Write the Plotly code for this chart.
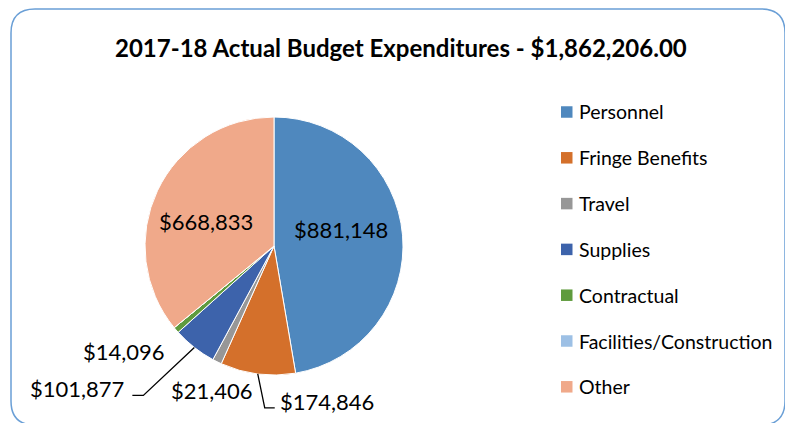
import math
import plotly.graph_objects as go

# ---- data ----
labels = ["Personnel", "Fringe Benefits", "Travel", "Supplies", "Contractual",
          "Facilities/Construction", "Other"]
values = [881148, 174846, 21406, 101877, 14096, 0, 668833]
colors = ["#4F88BE", "#D4702B", "#979797", "#3D63AB", "#5F9B3D", "#9DC0E5", "#F0A98A"]
title_text = "2017-18 Actual Budget Expenditures - $1,862,206.00"

PAGE_W, PAGE_H, OFF = 793, 423, 8      # browser body margin offset
W, H = PAGE_W - OFF, PAGE_H - OFF
CX, CY, R = 274, 246, 129              # pie centre / radius in page pixels

def px(x):
    return (x - OFF) / W

def py(y):
    return 1 - (y - OFF) / H

def fmt(v):
    return "${:,.0f}".format(v)

fig = go.Figure(go.Pie(
    labels=labels, values=values, sort=False, direction="clockwise", rotation=0,
    marker=dict(colors=colors, line=dict(color="white", width=1)),
    textinfo="none", hoverinfo="label+value", showlegend=False,
    domain=dict(x=[px(CX - R), px(CX + R)], y=[py(CY + R), py(CY - R)]),
))

total = sum(values)
mids = []
acc = 0
for v in values:
    mids.append((acc + v / 2) / total * 2 * math.pi)
    acc += v

def edge(i, k=1.0):
    a = mids[i]
    return CX + k * R * math.sin(a), CY - k * R * math.cos(a)

annotations = []
shapes = []
LBL_FONT = dict(family="Lato", size=22, color="black")

def label(x, y, text, xanchor="center", font=LBL_FONT):
    annotations.append(dict(x=px(x), y=py(y), xref="paper", yref="paper", text=text,
                            showarrow=False, xanchor=xanchor, yanchor="middle", font=font))

# inside labels
x, y = edge(0, 0.58)
label(x - 8, y - 10, fmt(values[0]))
x, y = edge(6, 0.58)
label(x, y + 8, fmt(values[6]))

# Fringe Benefits with leader
x0, y0 = edge(1)
shapes.append(dict(type="path", xref="paper", yref="paper",
                   path=f"M {px(x0)},{py(y0)} L {px(x0 + 7)},{py(y0 + 34)} L {px(x0 + 17)},{py(y0 + 34)}",
                   line=dict(color="black", width=1.3)))
label(x0 + 20, y0 + 28, fmt(values[1]), xanchor="left")
# Travel
x0, y0 = edge(2)
label(x0 - 5, y0 + 29, fmt(values[2]))
# Supplies with leader
x0, y0 = edge(3)
shapes.append(dict(type="path", xref="paper", yref="paper",
                   path=f"M {px(x0)},{py(y0)} L {px(x0 - 51)},{py(y0 + 48)} L {px(x0 - 62)},{py(y0 + 48)}",
                   line=dict(color="black", width=1.3)))
label(x0 - 68, y0 + 41, fmt(values[3]), xanchor="right")
# Contractual
x0, y0 = edge(4)
label(x0 - 52, y0 + 21, fmt(values[4]))

# manual legend
LEG_X, LEG_Y0, LEG_DY, SQ = 561, 112, 45.8, 11.5
for i, (lab, col) in enumerate(zip(labels, colors)):
    yc = LEG_Y0 + i * LEG_DY
    shapes.append(dict(type="rect", xref="paper", yref="paper",
                       x0=px(LEG_X), x1=px(LEG_X + SQ), y0=py(yc - SQ / 2), y1=py(yc + SQ / 2),
                       fillcolor=col, line=dict(width=0)))
    label(LEG_X + SQ + 4, yc, lab, xanchor="left",
          font=dict(family="Lato", size=19.5, color="black"))

# title
label(401, 47, f"<b>{title_text}</b>", font=dict(family="Lato", size=24, color="black"))

# rounded border
L, T, Rr, B, rad = 11, 9, 785, 425, 24
path = (f"M {px(L + rad)},{py(T)} L {px(Rr - rad)},{py(T)} Q {px(Rr)},{py(T)} {px(Rr)},{py(T + rad)} "
        f"L {px(Rr)},{py(B - rad)} Q {px(Rr)},{py(B)} {px(Rr - rad)},{py(B)} "
        f"L {px(L + rad)},{py(B)} Q {px(L)},{py(B)} {px(L)},{py(B - rad)} "
        f"L {px(L)},{py(T + rad)} Q {px(L)},{py(T)} {px(L + rad)},{py(T)} Z")
shapes.append(dict(type="path", xref="paper", yref="paper", path=path,
                   line=dict(color="#6A9FD6", width=1.5)))

fig.update_layout(width=W, height=H, margin=dict(l=0, r=0, t=0, b=0),
                  paper_bgcolor="white", plot_bgcolor="white",
                  annotations=annotations, shapes=shapes)
fig.write_html("out.html")
